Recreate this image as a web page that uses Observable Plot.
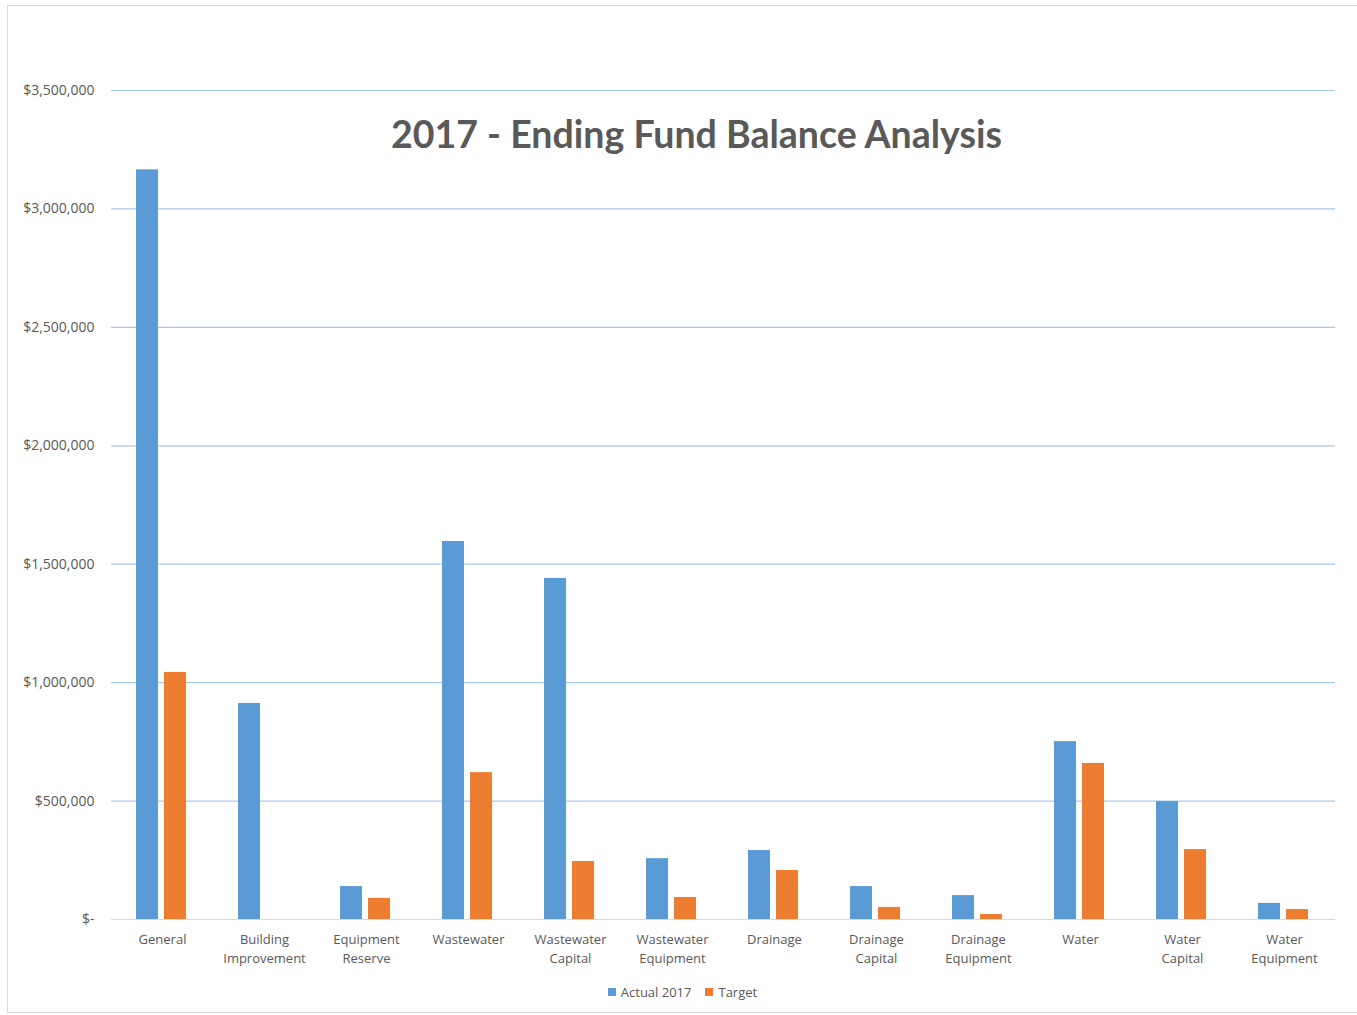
<!DOCTYPE html>
<html>
<head>
<meta charset="utf-8">
<script src="https://cdn.jsdelivr.net/npm/d3@7"></script>
<script src="https://cdn.jsdelivr.net/npm/@observablehq/plot@0.6"></script>
<style>
  html, body { margin: 0; padding: 0; background: #fff; }
  #wrap { position: relative; width: 1357px; height: 1015px; overflow: hidden; font-family: "Open Sans", sans-serif; }
  #frame { position: absolute; left: 7px; top: 5px; width: 1360px; height: 1008px; border: 1px solid #d9d9d9; border-top-color: #cfcfcf; box-sizing: border-box; }
  #chart { position: absolute; left: 0; top: 0; }
  #title { position: absolute; top: 111px; left: 391px; width: 600px; text-align: center; font-family: Lato, sans-serif; font-weight: bold; font-size: 37.5px; color: #595959; white-space: nowrap; }
  #legend { position: absolute; top: 983px; left: 8px; width: 1349px; display: flex; justify-content: center; gap: 14px; font-size: 13px; color: #595959; }
  .item { display: flex; align-items: center; gap: 5px; }
  .sw { width: 8px; height: 8px; display: inline-block; }
</style>
</head>
<body>
<div id="wrap">
  <div id="frame"></div>
  <div id="chart"></div>
  <div id="title">2017 - Ending Fund Balance Analysis</div>
  <div id="legend"></div>
</div>
<script>
const categories = ["General","Building Improvement","Equipment Reserve","Wastewater","Wastewater Capital","Wastewater Equipment","Drainage","Drainage Capital","Drainage Equipment","Water","Water Capital","Water Equipment"];
const seriesNames = ["Actual 2017", "Target"];
const actual2017 = [3165000, 912000, 139000, 1596000, 1440000, 257000, 291000, 139000, 101000, 751000, 498000, 68000];
const target = [1043000, 0, 89000, 620000, 245000, 93000, 207000, 51000, 21000, 659000, 295000, 42000];
const yTicks = [0, 500000, 1000000, 1500000, 2000000, 2500000, 3000000, 3500000];
const colors = ["#5B9BD5", "#ED7D31"];

const data = [];
categories.forEach((c, i) => {
  data.push({category: c, series: seriesNames[0], value: actual2017[i]});
  data.push({category: c, series: seriesNames[1], value: target[i]});
});

const fmt = d => d === 0 ? "$-" : "$" + d3.format(",")(d);

const chart = Plot.plot({
  width: 1357,
  height: 975,
  marginLeft: 110,
  marginRight: 22,
  marginTop: 90,
  marginBottom: 56,
  style: {fontFamily: "Open Sans, sans-serif", fontSize: "13px", color: "#595959", background: "transparent"},
  fx: {domain: categories, padding: 0, label: null},
  x: {domain: seriesNames, paddingInner: 0.2, paddingOuter: 0.86, align: 0.49, axis: null},
  y: {domain: [0, 3500000], label: null},
  color: {domain: seriesNames, range: colors},
  marks: [
    Plot.gridY(yTicks, {stroke: "#a9c9ea", strokeOpacity: 1, strokeWidth: 1.2}),
    Plot.axisY(yTicks, {tickSize: 0, tickPadding: 17, tickFormat: fmt, fill: "#595959", fontSize: 14, label: null}),
    Plot.axisFx({anchor: "bottom", tickSize: 0, tickPadding: 12, label: null, fill: "#595959", fontSize: 13, lineHeight: 1.4,
      tickFormat: d => d.replace(" ", "\n")}),
    Plot.barY(data, {fx: "category", x: "series", y: "value", fill: "series"}),
    Plot.ruleY([0], {stroke: "#d9d9d9", strokeWidth: 1.2})
  ]
});
document.getElementById("chart").appendChild(chart);

const legend = document.getElementById("legend");
seriesNames.forEach((s, i) => {
  const it = document.createElement("div");
  it.className = "item";
  const sw = document.createElement("span");
  sw.className = "sw";
  sw.style.background = colors[i];
  const t = document.createElement("span");
  t.textContent = s;
  it.appendChild(sw); it.appendChild(t);
  legend.appendChild(it);
});
</script>
</body>
</html>
